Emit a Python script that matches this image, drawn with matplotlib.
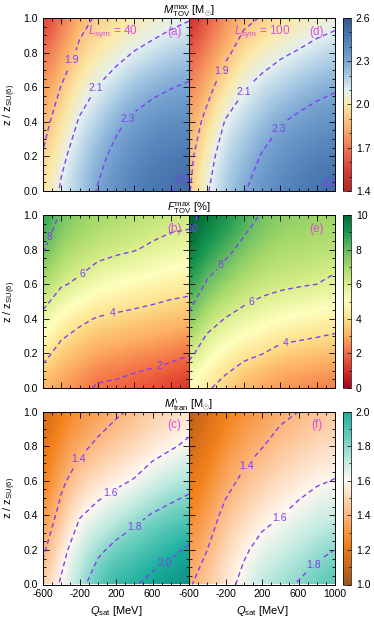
import numpy as np
import matplotlib
matplotlib.use('Agg')
import matplotlib.pyplot as plt
from matplotlib.colors import LinearSegmentedColormap, Normalize
from matplotlib.ticker import MultipleLocator

plt.rcParams['font.family'] = ['Liberation Sans', 'DejaVu Sans']
plt.rcParams['mathtext.fontset'] = 'custom'
plt.rcParams['mathtext.rm'] = 'Liberation Sans'
plt.rcParams['mathtext.it'] = 'Liberation Sans:italic'
plt.rcParams['mathtext.bf'] = 'Liberation Sans:bold'

# grid
q_sat = [-600, -400, -200, 0, 200, 400, 600, 800, 1000]
z_frac = [0.0, 0.2, 0.4, 0.6, 0.8, 1.0]

# one row per Q_sat value, z going 0 -> 1
mtov_L40 = [[1.97, 1.91, 1.85, 1.77, 1.66, 1.52],
            [2.12, 2.07, 1.98, 1.906, 1.80, 1.67],
            [2.20, 2.17, 2.115, 2.025, 1.93, 1.85],
            [2.31, 2.26, 2.18, 2.105, 2.00, 1.92],
            [2.39, 2.34, 2.27, 2.16, 2.06, 1.96],
            [2.44, 2.40, 2.33, 2.22, 2.105, 2.00],
            [2.48, 2.44, 2.37, 2.265, 2.14, 2.03],
            [2.495, 2.46, 2.39, 2.295, 2.18, 2.06],
            [2.54, 2.47, 2.40, 2.32, 2.20, 2.09]]
mtov_L100 = [[1.885, 1.85, 1.80, 1.72, 1.61, 1.47],
             [2.09, 2.05, 1.95, 1.85, 1.74, 1.61],
             [2.20, 2.165, 2.11, 1.99, 1.865, 1.74],
             [2.29, 2.23, 2.16, 2.09, 1.975, 1.86],
             [2.37, 2.31, 2.23, 2.14, 2.04, 1.91],
             [2.42, 2.37, 2.29, 2.18, 2.08, 1.96],
             [2.46, 2.41, 2.33, 2.22, 2.11, 2.00],
             [2.49, 2.44, 2.36, 2.26, 2.145, 2.035],
             [2.525, 2.46, 2.38, 2.285, 2.17, 2.06]]
ftov_L40 = [[3.1, 4.39, 5.68, 6.9, 8.1, 9.0],
            [2.65, 3.55, 4.73, 6.12, 6.98, 7.85],
            [2.35, 3.24, 4.23, 5.78, 6.69, 7.4],
            [1.85, 2.9, 3.92, 5.28, 6.38, 7.1],
            [1.75, 2.76, 3.78, 5.03, 6.2, 6.9],
            [1.55, 2.59, 3.66, 4.84, 6.05, 6.75],
            [1.38, 2.46, 3.54, 4.66, 5.81, 6.6],
            [1.18, 2.29, 3.39, 4.49, 5.57, 6.45],
            [0.9, 2.07, 3.26, 4.39, 5.5, 6.35]]
ftov_L100 = [[4.9, 6.3, 7.8, 8.8, 9.75, 10.3],
             [4.15, 5.3, 6.5, 7.85, 8.9, 9.7],
             [3.55, 4.73, 5.96, 7.19, 8.34, 9.2],
             [3.0, 4.3, 5.6, 6.67, 7.64, 8.6],
             [2.75, 4.03, 5.33, 6.37, 7.13, 7.9],
             [2.5, 3.63, 5.03, 6.22, 6.9, 7.5],
             [2.35, 3.5, 4.86, 6.1, 6.8, 7.35],
             [2.2, 3.4, 4.7, 6.0, 6.7, 7.25],
             [2.1, 3.3, 4.52, 5.75, 6.55, 7.15]]
mtran_L40 = [[1.47, 1.375, 1.29, 1.22, 1.16, 1.10],
             [1.62, 1.55, 1.45, 1.37, 1.30, 1.23],
             [1.75, 1.69, 1.59, 1.475, 1.365, 1.28],
             [1.89, 1.77, 1.645, 1.535, 1.425, 1.33],
             [1.97, 1.84, 1.70, 1.57, 1.47, 1.38],
             [1.99, 1.88, 1.76, 1.608, 1.505, 1.42],
             [2.04, 1.93, 1.81, 1.665, 1.55, 1.47],
             [2.09, 1.97, 1.845, 1.715, 1.585, 1.50],
             [2.13, 2.02, 1.88, 1.75, 1.625, 1.53]]
mtran_L100 = [[1.385, 1.31, 1.25, 1.18, 1.11, 1.05],
              [1.47, 1.40, 1.335, 1.265, 1.20, 1.14],
              [1.55, 1.51, 1.435, 1.36, 1.29, 1.22],
              [1.64, 1.58, 1.50, 1.425, 1.35, 1.28],
              [1.73, 1.645, 1.56, 1.48, 1.395, 1.32],
              [1.77, 1.685, 1.595, 1.52, 1.445, 1.37],
              [1.81, 1.725, 1.635, 1.555, 1.475, 1.40],
              [1.86, 1.77, 1.675, 1.585, 1.51, 1.435],
              [1.90, 1.80, 1.70, 1.605, 1.525, 1.46]]

lsym_values = [40, 100]
tags = [['(a)', '(d)'], ['(b)', '(e)'], ['(c)', '(f)']]

# where the contour numbers sit (Q_sat, z)
label_spots = [[[(-227, 0.74), (28, 0.58), (394, 0.38), (814, 0.12)],
                [(-205, 0.68), (105, 0.53), (470, 0.32), (930, 0.05)]],
               [[(-472, 0.86), (-136, 0.63), (175, 0.40), (679, 0.11)],
                [(-500, 0.9), (-194, 0.68), (123, 0.456), (470, 0.225)]],
               [[(-89, 0.685), (174, 0.497), (448, 0.30), (759, 0.10)],
                [(87, 0.656), (427, 0.36), (807, 0.09)]]]

cmap_mtov = LinearSegmentedColormap.from_list('mtov', [(0.0, '#b2282c'), (0.125, '#dc3d35'), (0.25, '#f07a55'),
                                                       (0.375, '#fbb56e'), (0.5, '#fbe9a8'), (0.583, '#e4f1f1'),
                                                       (0.667, '#a9cbe4'), (0.75, '#7aa6d2'), (0.875, '#4f7fb8'),
                                                       (1.0, '#34568e')])
cmap_ftov = plt.get_cmap('RdYlGn')
cmap_mtran = LinearSegmentedColormap.from_list('mtran', [(0.0, '#9c5418'), (0.1, '#d06a18'), (0.2, '#f4821c'),
                                                         (0.333, '#fdb57a'), (0.5, '#fff8f0'), (0.6, '#bfeae0'),
                                                         (0.7, '#6fd0bf'), (0.833, '#1aae9e'), (1.0, '#087a6c')])

rows = [
    dict(data=[mtov_L40, mtov_L100], cmap=cmap_mtov, norm=Normalize(1.4, 2.6), levels=[1.9, 2.1, 2.3, 2.5],
         fmt='%.1f', cticks=[1.4, 1.7, 2.0, 2.3, 2.6], cminor=0.1, clim=(1.4, 2.6),
         title=r'$M_{\rm TOV}^{\rm max}$ [M$_{\odot}$]'),
    dict(data=[ftov_L40, ftov_L100], cmap=cmap_ftov, norm=Normalize(0, 10), levels=[2, 4, 6, 8, 10],
         fmt='%d', cticks=[0, 2, 4, 6, 8, 10], cminor=1, clim=(0, 10),
         title=r'$F_{\rm TOV}^{\rm max}$ [%]'),
    dict(data=[mtran_L40, mtran_L100], cmap=cmap_mtran, norm=Normalize(1.0, 2.2), levels=[1.4, 1.6, 1.8, 2.0],
         fmt='%.1f', cticks=[1.0, 1.2, 1.4, 1.6, 1.8, 2.0], cminor=0.1, clim=(1.0, 2.0),
         title=r'$M_{\rm tran}^{\backslash}$ [M$_{\odot}$]'),
]

W, H = 374, 622
fig = plt.figure(figsize=(W / 100, H / 100), dpi=100)

line_col = '#7f3ff2'
tag_col = '#d94ee0'
px_left = [43, 189]
px_top = [18, 215, 411.5]
pw, ph = 146, 173

dq = q_sat[1] - q_sat[0]
dz = z_frac[1] - z_frac[0]
ext = [q_sat[0] - dq / 2, q_sat[-1] + dq / 2, z_frac[0] - dz / 2, z_frac[-1] + dz / 2]

for r, row in enumerate(rows):
    y0 = 1 - (px_top[r] + ph) / H
    for c in range(2):
        ax = fig.add_axes([px_left[c] / W, y0, pw / W, ph / H])
        vals = np.array(row['data'][c]).T
        im = ax.imshow(vals, origin='lower', aspect='auto', cmap=row['cmap'], norm=row['norm'],
                       interpolation='bicubic', extent=ext)
        cs = ax.contour(q_sat, z_frac, vals, levels=row['levels'], colors=line_col,
                        linestyles=[(0, (3.5, 2.5))], linewidths=1.0)
        labs = ax.clabel(cs, fmt=row['fmt'], fontsize=7.5, inline=True, inline_spacing=2,
                         colors=line_col, manual=label_spots[r][c])
        for t in labs:
            t.set_rotation(0)
        ax.set_xlim(-600, 1000)
        ax.set_ylim(0, 1)
        ax.xaxis.set_major_locator(MultipleLocator(400))
        ax.xaxis.set_minor_locator(MultipleLocator(100))
        ax.yaxis.set_major_locator(MultipleLocator(0.2))
        ax.yaxis.set_minor_locator(MultipleLocator(0.05))
        ax.tick_params(which='both', direction='in', top=True, right=True, labelsize=7.5, width=0.6)
        ax.tick_params(which='major', length=4)
        ax.tick_params(which='minor', length=2)
        for sp in ax.spines.values():
            sp.set_linewidth(0.7)
        if r == 2:
            if c == 0:
                ax.set_xticks([-600, -200, 200, 600, 1000], ['-600', '-200', '200', '600', ''])
            else:
                ax.set_xticks([-600, -200, 200, 600, 1000], ['-600', '-200', '200', '600', '1000'])
            ax.set_xlabel(r'$Q_{\rm sat}$ [MeV]', fontsize=8, labelpad=3)
        else:
            ax.tick_params(labelbottom=False)
        if c == 0:
            ax.set_yticks([0, 0.2, 0.4, 0.6, 0.8, 1.0], ['0.0', '0.2', '0.4', '0.6', '0.8', '1.0'])
            ax.set_ylabel(r'z / z$_{\rm SU(6)}$', fontsize=8, labelpad=4)
        else:
            ax.tick_params(labelleft=False)
        ax.text(0.9 if c == 0 else 0.875, 0.92, tags[r][c], transform=ax.transAxes, color=tag_col,
                fontsize=8.5, ha='center', va='center')
        if r == 0:
            ax.text(0.48 if c == 0 else 0.5, 0.92, r'$L_{\rm sym}$ = %d' % lsym_values[c], transform=ax.transAxes,
                    color=tag_col, fontsize=8.5, ha='center', va='center')

    cax = fig.add_axes([343 / W, y0, 8 / W, ph / H])
    cb = fig.colorbar(im, cax=cax, ticks=row['cticks'])
    cb.ax.set_ylim(*row['clim'])
    cb.ax.yaxis.set_minor_locator(MultipleLocator(row['cminor']))
    cb.ax.tick_params(which='both', direction='in', labelsize=7.5, width=0.5)
    cb.ax.tick_params(which='major', length=3)
    cb.ax.tick_params(which='minor', length=1.5)
    if row['fmt'] == '%d':
        cb.ax.set_yticklabels([str(t) for t in row['cticks']])
    else:
        cb.ax.set_yticklabels(['%.1f' % t for t in row['cticks']])
    cb.outline.set_linewidth(0.5)

    fig.text(189 / W, 1 - (px_top[r] - 7) / H, row['title'], ha='center', va='center', fontsize=8)

fig.savefig('out.png', dpi=100)
